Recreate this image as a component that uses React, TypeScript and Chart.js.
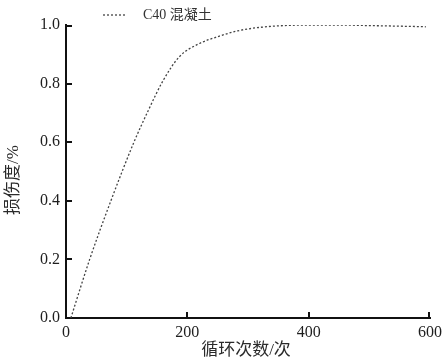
import React, { useEffect, useRef } from "react";
import { Chart, registerables } from "chart.js";

Chart.register(...registerables);

const cycles = [8, 39, 74, 112, 136, 160, 187, 220, 253, 283, 320, 360, 400, 450, 500, 550, 593];
const damage = [0.0, 0.2, 0.4, 0.6, 0.71, 0.81, 0.892, 0.937, 0.962, 0.98, 0.992, 0.998, 1.0, 1.0, 0.998, 0.996, 0.994];
const xTicks = [0, 200, 400, 600];
const yTicks = [0, 0.2, 0.4, 0.6, 0.8, 1.0];
const seriesLabel = "C40 混凝土";
const xTitle = "循环次数/次";
const yTitle = "损伤度/%";

const FONT = '"Liberation Serif", "Noto Sans CJK SC", serif';
const AXIS = "#111";

const decorations = {
  id: "decorations",
  afterDraw(chart: any) {
    const ctx = chart.ctx;
    const area = chart.chartArea;
    const xs = chart.scales["x"];
    const ys = chart.scales["y"];
    const ds = chart.data.datasets[0];

    // inward tick marks
    ctx.save();
    ctx.setLineDash([]);
    ctx.fillStyle = AXIS;
    for (const v of xTicks) {
      if (v === 0) continue;
      const px = Math.round(xs.getPixelForValue(v)) - (v === 600 ? 2 : 1);
      ctx.fillRect(px, area.bottom - 6, 2, 6);
    }
    for (const v of yTicks) {
      if (v === 0) continue;
      const py = Math.round(ys.getPixelForValue(v)) - (v === 1 ? 0 : 1);
      ctx.fillRect(area.left, py, 6, 2);
    }
    ctx.restore();

    // legend
    ctx.save();
    ctx.strokeStyle = ds.borderColor;
    ctx.lineWidth = ds.borderWidth;
    ctx.setLineDash(ds.borderDash);
    ctx.beginPath();
    ctx.moveTo(103, 15);
    ctx.lineTo(126, 15);
    ctx.stroke();
    ctx.setLineDash([]);
    ctx.fillStyle = "#333";
    ctx.font = "14px " + FONT;
    ctx.textBaseline = "middle";
    ctx.textAlign = "left";
    ctx.fillText(ds.label, 143, 15);

    // axis titles
    ctx.fillStyle = "#2a2a2a";
    ctx.font = "17px " + FONT;
    ctx.textAlign = "center";
    ctx.fillText(xTitle, (area.left + area.right) / 2 - 2, 351);
    ctx.translate(14, 180);
    ctx.rotate(-Math.PI / 2);
    ctx.fillText(yTitle, 0, 0);
    ctx.restore();
  },
};

export default function App() {
  const ref = useRef<HTMLCanvasElement | null>(null);
  useEffect(() => {
    if (!ref.current) return;
    const chart = new Chart(ref.current, {
      type: "line",
      data: {
        datasets: [
          {
            label: seriesLabel,
            data: cycles.map((c, i) => ({ x: c, y: damage[i] })),
            borderColor: "#444",
            borderWidth: 1.3,
            borderDash: [2, 2],
            pointRadius: 0,
            cubicInterpolationMode: "monotone",
            fill: false,
          },
        ],
      },
      options: {
        animation: false,
        responsive: false,
        maintainAspectRatio: false,
        layout: { padding: { top: 25, right: 16, left: 0, bottom: 0 } },
        plugins: { legend: { display: false }, tooltip: { enabled: false } },
        scales: {
          x: {
            type: "linear",
            min: 0,
            max: 600,
            afterBuildTicks: (s: any) => {
              s.ticks = xTicks.map((v) => ({ value: v }));
            },
            afterFit: (s: any) => {
              s.height = 46;
            },
            grid: { display: false, drawTicks: false },
            border: { display: true, color: AXIS, width: 2 },
            ticks: {
              color: "#1e1e1e",
              padding: 5,
              font: { family: FONT, size: 16 },
              maxRotation: 0,
            },
            title: { display: false },
          },
          y: {
            type: "linear",
            min: 0,
            max: 1,
            afterBuildTicks: (s: any) => {
              s.ticks = yTicks.map((v) => ({ value: v }));
            },
            afterFit: (s: any) => {
              s.width = 66;
            },
            grid: { display: false, drawTicks: false },
            border: { display: true, color: AXIS, width: 2 },
            ticks: {
              color: "#1e1e1e",
              padding: 6,
              font: { family: FONT, size: 16 },
              callback: (v: any) => Number(v).toFixed(1),
            },
            title: { display: false },
          },
        },
      },
      plugins: [decorations],
    });
    return () => chart.destroy();
  }, []);
  return (
    <div style={{ position: "absolute", left: 0, top: 0, width: 447, height: 364, background: "#fff" }}>
      <canvas ref={ref} width={447} height={364} style={{ display: "block" }} />
    </div>
  );
}
